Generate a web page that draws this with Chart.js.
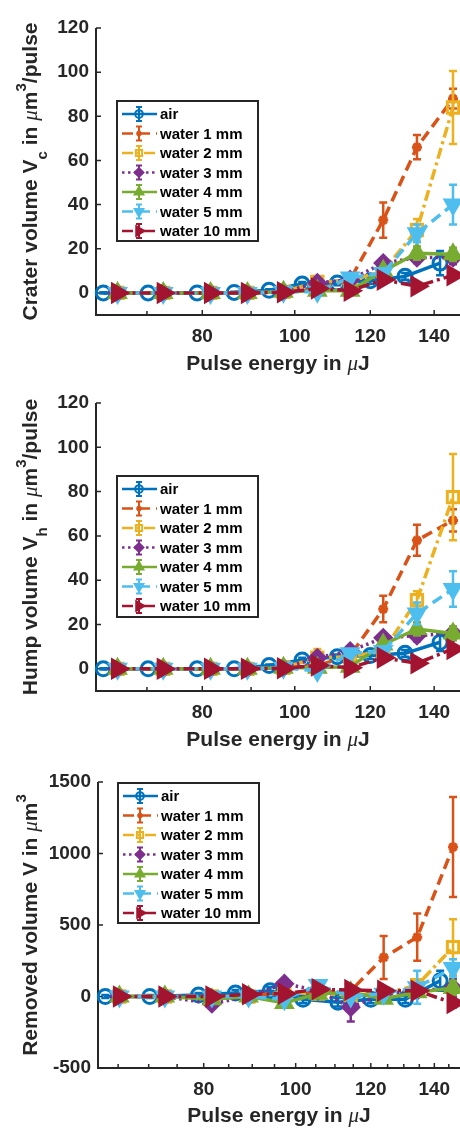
<!DOCTYPE html>
<html>
<head>
<meta charset="utf-8">
<script src="https://cdn.jsdelivr.net/npm/chart.js@4"></script>
<style>
    body { margin: 0; background: #fff; width: 460px; height: 1128px; overflow: hidden; }
    .panel { position: absolute; left: 0; width: 460px; height: 376px; }
</style>
</head>
<body>
<div class="panel" style="top:0"><canvas id="craterChart" width="460" height="376"></canvas></div>
<div class="panel" style="top:376px"><canvas id="humpChart" width="460" height="376"></canvas></div>
<div class="panel" style="top:752px"><canvas id="removedChart" width="460" height="376"></canvas></div>
<script>
// ==========================================
// DATA
// ==========================================

const seriesLabels = ['air', 'water 1 mm', 'water 2 mm', 'water 3 mm', 'water 4 mm', 'water 5 mm', 'water 10 mm'];

// pulse energies (uJ)
const airEnergy   = [63.0, 70.2, 79.0, 86.4, 94.0, 101.8, 110.8, 120.0, 130.5, 142.0];
const waterEnergy = [65.2, 72.8, 81.6, 89.2, 97.3, 105.6, 114.3, 123.8, 134.3, 146.5];

// crater volume Vc (um^3/pulse)
const craterAir     = [0, 0, 0, 0.2, 1.2, 4, 4.5, 5.5, 7.5, 13.5];
const craterAirErr  = [0.3, 0.3, 0.3, 0.3, 0.5, 1, 1, 1.5, 1.5, 5.5];
const craterW1      = [0, 0, 0, 0, 0.5, 1.5, 6, 33, 66, 88];
const craterW1Err   = [0.2, 0.2, 0.2, 0.2, 0.3, 1, 2, 8, 5.5, 4.5];
const craterW2      = [0, 0, 0, 0, 0.5, 5, 5.5, 10, 28.5, 84];
const craterW2Err   = [0.2, 0.2, 0.2, 0.2, 0.3, 2, 1.5, 2, 5, 16.5];
const craterW3      = [0, 0, 0, 0, 0.5, 4.5, 6, 13.5, 16, 16];
const craterW3Err   = [0.2, 0.2, 0.2, 0.2, 0.3, 1, 1.5, 2, 2.5, 3];
const craterW4      = [0, 0, 0, 0, 0.5, 1, 1, 10, 18, 17.5];
const craterW4Err   = [0.2, 0.2, 0.2, 0.2, 0.3, 0.5, 0.5, 2, 3, 3];
const craterW5      = [0, 0, 0, 0, 0.5, 0.5, 7, 9, 27, 40];
const craterW5Err   = [0.2, 0.2, 0.2, 0.2, 0.3, 1, 1.5, 2, 4, 9];
const craterW10     = [0, 0, 0, 0, 0.3, 2, 1, 6, 3, 8];
const craterW10Err  = [0.2, 0.2, 0.2, 0.2, 0.3, 1, 1, 1.5, 1, 1.5];

// hump volume Vh (um^3/pulse)
const humpAir     = [0, 0, 0, 0, 1.5, 4, 5.5, 6, 7, 12];
const humpAirErr  = [0.3, 0.3, 0.3, 0.3, 0.5, 1, 1, 1.5, 1.5, 4];
const humpW1      = [0, 0, 0, 0, 0.5, 1.5, 6, 27, 58, 67];
const humpW1Err   = [0.2, 0.2, 0.2, 0.2, 0.3, 1, 2, 6, 7, 5];
const humpW2      = [0, 0, 0, 0, 0.5, 5, 5.5, 8, 31, 77.5];
const humpW2Err   = [0.2, 0.2, 0.2, 0.2, 0.3, 4, 1.5, 2, 4, 19.5];
const humpW3      = [0, 0, 0, 0, 0.5, 5, 8, 14, 15, 16];
const humpW3Err   = [0.2, 0.2, 0.2, 0.2, 0.3, 1, 1.5, 2, 2.5, 3];
const humpW4      = [0, 0, 0, 0, 0.5, 0.5, 1, 11, 18, 16];
const humpW4Err   = [0.2, 0.2, 0.2, 0.2, 0.3, 0.5, 0.5, 2, 3, 3];
const humpW5      = [0, 0, 0, 0, 0.5, -1, 7, 8, 25, 36];
const humpW5Err   = [0.2, 0.2, 0.2, 0.2, 0.3, 1, 1.5, 2, 5, 8];
const humpW10     = [0, 0, 0, 0, 0.3, 1.5, 0.5, 5, 2.5, 9];
const humpW10Err  = [0.2, 0.2, 0.2, 0.2, 0.3, 1, 1, 1.5, 1, 1.5];

// removed volume V (um^3)
const removedAir     = [0, 0, 10, 25, 40, -20, -40, -20, -20, 110];
const removedAirErr  = [10, 10, 15, 20, 25, 25, 30, 25, 25, 70];
const removedW1      = [0, 0, 0, 10, 20, 30, 40, 273, 415, 1045];
const removedW1Err   = [10, 10, 15, 20, 20, 30, 30, 150, 165, 350];
const removedW2      = [0, 0, 0, 0, 30, 20, 10, 20, 80, 345];
const removedW2Err   = [10, 10, 15, 20, 25, 30, 30, 30, 40, 195];
const removedW3      = [0, 0, -50, 0, 90, 40, -75, 20, 40, 60];
const removedW3Err   = [10, 10, 20, 20, 30, 30, 100, 30, 30, 60];
const removedW4      = [0, 0, -20, 0, -45, 20, 30, -15, 30, 60];
const removedW4Err   = [10, 10, 20, 20, 25, 25, 25, 25, 30, 50];
const removedW5      = [0, 0, 0, 0, -20, 80, 0, 20, 65, 200];
const removedW5Err   = [10, 10, 15, 20, 25, 30, 30, 30, 115, 60];
const removedW10     = [0, 0, 0, 15, 20, 50, 45, 40, 40, -45];
const removedW10Err  = [10, 10, 15, 15, 20, 25, 25, 25, 25, 30];

// axis ticks
const xTicksCoarse = [70, 80, 90, 100, 120, 140];
const xTicksFine   = [65, 70, 75, 80, 85, 90, 95, 100, 105, 110, 115, 120, 125, 130, 135, 140, 145];
const xLabelled    = [80, 100, 120, 140];
const yTicksSmall  = [0, 20, 40, 60, 80, 100, 120];
const yTicksLarge  = [-500, 0, 500, 1000, 1500];

// ==========================================
// STYLE
// ==========================================

const FONT = '"Liberation Sans", Arial, Helvetica, sans-serif';
const AXIS_COLOR = '#262626';

const seriesStyles = [
    { color: '#0072BD', dash: [],            point: 'circle',   radius: 7,  hollow: true },
    { color: '#D95319', dash: [11, 6],       point: 'star',     radius: 5,  hollow: true },
    { color: '#EDB120', dash: [11, 4, 3, 4], point: 'rect',     radius: 8,  hollow: true },
    { color: '#7E2F8E', dash: [2.5, 3.5],    point: 'rectRot',  radius: 8 },
    { color: '#77AC30', dash: [],            point: 'triangle', radius: 9 },
    { color: '#4DBEEE', dash: [11, 6],       point: 'triangle', radius: 9,  rotation: 180 },
    { color: '#A2142F', dash: [11, 4, 3, 4], point: 'triangle', radius: 10, rotation: 90 }
];

// ==========================================
// PLUGINS
// ==========================================

// vertical error bars with caps, drawn under each series' markers
const errorBarPlugin = {
    id: 'errorBars',
    beforeDatasetDraw(chart, args) {
        const ds = chart.data.datasets[args.index];
        if (!ds.errors) return;
        const yScale = chart.scales.y;
        const ctx = chart.ctx;
        ctx.save();
        ctx.strokeStyle = ds.borderColor;
        ctx.lineWidth = 2.5;
        ctx.setLineDash([]);
        args.meta.data.forEach((pt, i) => {
            const v = ds.data[i].y;
            const e = ds.errors[i];
            const top = yScale.getPixelForValue(v + e);
            const bot = yScale.getPixelForValue(v - e);
            ctx.beginPath();
            ctx.moveTo(pt.x, top); ctx.lineTo(pt.x, bot);
            ctx.moveTo(pt.x - 4, top); ctx.lineTo(pt.x + 4, top);
            ctx.moveTo(pt.x - 4, bot); ctx.lineTo(pt.x + 4, bot);
            ctx.stroke();
        });
        ctx.restore();
    }
};

// MATLAB style axes: left + bottom lines, ticks pointing inward
const axesPlugin = {
    id: 'matAxes',
    beforeDatasetsDraw(chart) {
        const { ctx, chartArea: a, scales: { x, y } } = chart;
        ctx.save();
        ctx.strokeStyle = AXIS_COLOR;
        ctx.lineWidth = 2;
        ctx.beginPath();
        ctx.moveTo(a.left, a.top);
        ctx.lineTo(a.left, a.bottom);
        ctx.lineTo(chart.width, a.bottom);
        ctx.stroke();
        ctx.lineWidth = 1.5;
        ctx.beginPath();
        x.ticks.forEach(t => {
            const px = x.getPixelForValue(t.value);
            const len = xLabelled.includes(t.value) ? 5 : 4;
            ctx.moveTo(px, a.bottom);
            ctx.lineTo(px, a.bottom - len);
        });
        y.ticks.forEach(t => {
            const py = y.getPixelForValue(t.value);
            ctx.moveTo(a.left, py);
            ctx.lineTo(a.left + 5, py);
        });
        ctx.stroke();
        ctx.restore();
    }
};

function drawRuns(ctx, runs, cx, baseline) {
    const fonts = {
        b: `bold 21px ${FONT}`,
        mu: 'italic 21px "Liberation Serif", "DejaVu Serif", serif',
        sub: `bold 15px ${FONT}`,
        sup: `bold 15px ${FONT}`
    };
    const shift = { b: 0, mu: 0, sub: 10, sup: -11 };
    let total = 0;
    runs.forEach(r => { ctx.font = fonts[r.s]; r.w = ctx.measureText(r.t).width; total += r.w; });
    let x = cx - total / 2;
    runs.forEach(r => {
        ctx.font = fonts[r.s];
        ctx.fillText(r.t, x, baseline + shift[r.s]);
        x += r.w;
    });
}

const titlesPlugin = {
    id: 'matTitles',
    afterDraw(chart, args, opts) {
        const { ctx, chartArea: a } = chart;
        ctx.save();
        ctx.fillStyle = AXIS_COLOR;
        ctx.textBaseline = 'alphabetic';
        ctx.textAlign = 'left';
        drawRuns(ctx, opts.xTitle, (a.left + a.right) / 2, 370);
        ctx.translate(37, (a.top + a.bottom) / 2);
        ctx.rotate(-Math.PI / 2);
        drawRuns(ctx, opts.yTitle, 0, 0);
        ctx.restore();
    }
};

// legend box with line sample, error bar and marker
const legendPlugin = {
    id: 'matLegend',
    afterDatasetsDraw(chart, args, opts) {
        const ctx = chart.ctx;
        ctx.save();
        ctx.fillStyle = '#fff';
        ctx.fillRect(opts.x, opts.y, opts.w, opts.h);
        ctx.strokeStyle = AXIS_COLOR;
        ctx.lineWidth = 2;
        ctx.strokeRect(opts.x, opts.y, opts.w, opts.h);
        seriesLabels.forEach((label, i) => {
            const st = seriesStyles[i];
            const cy = opts.y + 13 + i * 19.5;
            const x0 = opts.x + 5, x1 = opts.x + 40, cx = opts.x + 22;
            ctx.strokeStyle = st.color;
            ctx.lineWidth = 2.5;
            ctx.setLineDash(st.dash);
            ctx.beginPath();
            ctx.moveTo(x0, cy); ctx.lineTo(x1, cy);
            ctx.stroke();
            ctx.setLineDash([]);
            ctx.lineWidth = 2;
            ctx.beginPath();
            ctx.moveTo(cx, cy - 7); ctx.lineTo(cx, cy + 7);
            ctx.moveTo(cx - 3, cy - 7); ctx.lineTo(cx + 3, cy - 7);
            ctx.moveTo(cx - 3, cy + 7); ctx.lineTo(cx + 3, cy + 7);
            ctx.stroke();
            ctx.fillStyle = st.hollow ? 'rgba(0,0,0,0)' : st.color;
            Chart.helpers.drawPoint(ctx, {
                pointStyle: st.point,
                rotation: st.rotation || 0,
                radius: st.radius * 0.55,
                borderWidth: 2
            }, cx, cy);
            ctx.fillStyle = '#000';
            ctx.font = `bold 15px ${FONT}`;
            ctx.textBaseline = 'middle';
            ctx.fillText(label, opts.x + 43, cy + 1);
        });
        ctx.restore();
    }
};

// ==========================================
// CHART BUILDER
// ==========================================

function makeChart(id, cfg) {
    const ctx = document.getElementById(id).getContext('2d');
    const datasets = seriesLabels.map((label, i) => {
        const st = seriesStyles[i];
        const energy = i === 0 ? airEnergy : waterEnergy;
        return {
            label: label,
            data: energy.map((e, k) => ({ x: e, y: cfg.values[i][k] })),
            errors: cfg.errors[i],
            borderColor: st.color,
            borderWidth: 3.5,
            borderDash: st.dash,
            pointStyle: st.point,
            pointRotation: st.rotation || 0,
            pointRadius: st.radius,
            pointBorderWidth: 3,
            pointBorderColor: st.color,
            pointBackgroundColor: st.hollow ? 'rgba(0,0,0,0)' : st.color,
            tension: 0,
            fill: false,
            clip: false,
            order: seriesLabels.length - 1 - i
        };
    });

    return new Chart(ctx, {
        type: 'line',
        data: { datasets },
        plugins: [errorBarPlugin, axesPlugin, legendPlugin, titlesPlugin],
        options: {
            responsive: false,
            animation: false,
            events: [],
            layout: { autoPadding: false, padding: { top: cfg.top, left: 0, right: 0, bottom: 0 } },
            plugins: {
                legend: { display: false },
                tooltip: { enabled: false },
                matLegend: cfg.legend,
                matTitles: { xTitle: cfg.xTitle, yTitle: cfg.yTitle }
            },
            scales: {
                x: {
                    type: 'logarithmic',
                    min: 61.9,
                    max: 149,
                    afterBuildTicks: (scale) => { scale.ticks = cfg.xTicks.map(v => ({ value: v })); },
                    afterFit: (scale) => { scale.height = 376 - cfg.bottom; scale.paddingLeft = 0; scale.paddingRight = 0; },
                    grid: { display: true, drawOnChartArea: false, drawTicks: false },
                    border: { display: false },
                    ticks: {
                        autoSkip: false, maxRotation: 0, minRotation: 0, padding: 10,
                        color: AXIS_COLOR,
                        font: { family: FONT, size: 19, weight: 'bold' },
                        callback: (v) => xLabelled.includes(v) ? String(v) : ''
                    }
                },
                y: {
                    type: 'linear',
                    min: cfg.yMin,
                    max: cfg.yMax,
                    afterBuildTicks: (scale) => { scale.ticks = cfg.yTicks.map(v => ({ value: v })); },
                    afterFit: (scale) => { scale.width = cfg.left; },
                    grid: { display: true, drawOnChartArea: false, drawTicks: false },
                    border: { display: false },
                    ticks: {
                        padding: 7,
                        color: AXIS_COLOR,
                        font: { family: FONT, size: 19, weight: 'bold' },
                        callback: (v) => String(v)
                    }
                }
            }
        }
    });
}

const xTitleRuns = () => [{ t: 'Pulse energy in ', s: 'b' }, { t: 'μ', s: 'mu' }, { t: 'J', s: 'b' }];

makeChart('craterChart', {
    values: [craterAir, craterW1, craterW2, craterW3, craterW4, craterW5, craterW10],
    errors: [craterAirErr, craterW1Err, craterW2Err, craterW3Err, craterW4Err, craterW5Err, craterW10Err],
    yMin: -10, yMax: 120, yTicks: yTicksSmall, xTicks: xTicksCoarse,
    top: 28, bottom: 315, left: 96,
    legend: { x: 117, y: 101, w: 141, h: 140 },
    xTitle: xTitleRuns(),
    yTitle: [{ t: 'Crater volume V', s: 'b' }, { t: 'c', s: 'sub' }, { t: ' in ', s: 'b' }, { t: 'μ', s: 'mu' },
             { t: 'm', s: 'b' }, { t: '3', s: 'sup' }, { t: '/pulse', s: 'b' }]
});

makeChart('humpChart', {
    values: [humpAir, humpW1, humpW2, humpW3, humpW4, humpW5, humpW10],
    errors: [humpAirErr, humpW1Err, humpW2Err, humpW3Err, humpW4Err, humpW5Err, humpW10Err],
    yMin: -10, yMax: 120, yTicks: yTicksSmall, xTicks: xTicksCoarse,
    top: 27, bottom: 315, left: 96,
    legend: { x: 117, y: 100, w: 141, h: 141 },
    xTitle: xTitleRuns(),
    yTitle: [{ t: 'Hump volume V', s: 'b' }, { t: 'h', s: 'sub' }, { t: ' in ', s: 'b' }, { t: 'μ', s: 'mu' },
             { t: 'm', s: 'b' }, { t: '3', s: 'sup' }, { t: '/pulse', s: 'b' }]
});

makeChart('removedChart', {
    values: [removedAir, removedW1, removedW2, removedW3, removedW4, removedW5, removedW10],
    errors: [removedAirErr, removedW1Err, removedW2Err, removedW3Err, removedW4Err, removedW5Err, removedW10Err],
    yMin: -500, yMax: 1500, yTicks: yTicksLarge, xTicks: xTicksFine,
    top: 30, bottom: 316, left: 98,
    legend: { x: 118, y: 31, w: 141, h: 140 },
    xTitle: xTitleRuns(),
    yTitle: [{ t: 'Removed volume V in ', s: 'b' }, { t: 'μ', s: 'mu' }, { t: 'm', s: 'b' }, { t: '3', s: 'sup' }]
});
</script>
</body>
</html>
